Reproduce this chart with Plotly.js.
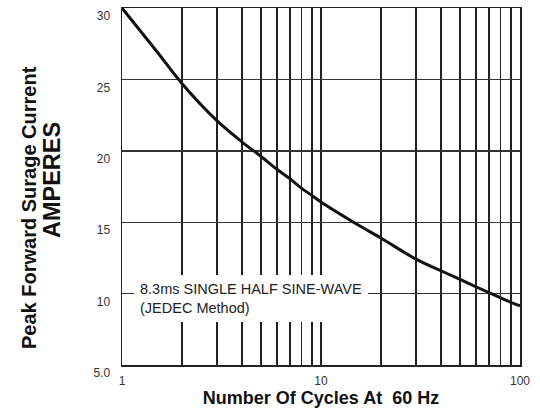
<!DOCTYPE html>
<html>
<head>
<meta charset="utf-8">
<script src="https://cdn.plot.ly/plotly-3.0.1.min.js"></script>
<style>html,body{margin:0;padding:0;background:#fff;}#chart{width:540px;height:412px;}</style>
</head>
<body>
<div id="chart"></div>
<script>
// Data
const cycles = [1, 1.5, 2, 3, 4, 5, 6, 7, 8, 9, 10, 15, 20, 30, 40, 50, 60, 70, 80, 90, 100];
const amperes = [30, 26.94, 24.72, 22.11, 20.63, 19.6, 18.71, 18.03, 17.37, 16.87, 16.41, 14.89, 13.89, 12.41, 11.6, 10.99, 10.48, 10.07, 9.7, 9.39, 9.14];

const xTickVals = [1, 2, 3, 4, 5, 6, 7, 8, 9, 10, 20, 30, 40, 50, 60, 70, 80, 90, 100];
const xTickText = ['1', '', '', '', '', '', '', '', '', '10', '', '', '', '', '', '', '', '', '100'];
const yTickVals = [5, 10, 15, 20, 25, 30];
const yTickText = ['5.0', '10', '15', '20', '25', '30'];

const xTitle = 'Number Of Cycles At\u00a0 60 Hz';
const yTitle1 = 'Peak Forward Surage Current';
const yTitle2 = 'AMPERES';
const noteText = '8.3ms SINGLE HALF SINE-WAVE<br>(JEDEC Method)';

const FONT = 'Liberation Sans, Arial, sans-serif';

const trace = {
  x: cycles, y: amperes, type: 'scatter', mode: 'lines',
  line: {color: '#111', width: 3, shape: 'spline', smoothing: 1},
  hoverinfo: 'skip'
};

const layout = {
  width: 540, height: 412,
  margin: {l: 122, r: 20, t: 8, b: 47},
  paper_bgcolor: '#fff', plot_bgcolor: '#fff',
  showlegend: false,
  font: {family: FONT, color: '#222', size: 12},
  xaxis: {
    type: 'log', range: [0, 2],
    tickmode: 'array', tickvals: xTickVals, ticktext: xTickText,
    ticks: '', showgrid: true, gridcolor: '#222', gridwidth: 1.4,
    showline: true, mirror: true, linecolor: '#222', linewidth: 1.5,
    zeroline: false, ticklabelstandoff: 4,
    tickfont: {family: FONT, size: 12, color: '#333'},
    title: {text: xTitle, font: {family: FONT, size: 18, color: '#111', weight: 'bold'}, standoff: 4}
  },
  yaxis: {
    range: [5, 30],
    tickmode: 'array', tickvals: yTickVals, ticktext: yTickText,
    ticks: '', showgrid: true, gridcolor: '#333', gridwidth: 1.4,
    showline: true, mirror: true, linecolor: '#222', linewidth: 1.5,
    zeroline: false, ticklabelstandoff: 8, ticklabelshift: 8,
    tickfont: {family: FONT, size: 12, color: '#333'}
  },
  annotations: [
    {
      text: noteText, xref: 'paper', yref: 'paper', x: 0.03, y: 0.185,
      xanchor: 'left', yanchor: 'middle', align: 'left', showarrow: false,
      bgcolor: '#fff', borderpad: 6, borderwidth: 0,
      font: {family: FONT, size: 14.5, color: '#222'}
    },
    {
      text: '<b>' + yTitle1 + '</b>', xref: 'paper', yref: 'paper',
      x: -0.2337, y: 0.4426, xanchor: 'center', yanchor: 'middle',
      textangle: -90, showarrow: false,
      font: {family: FONT, size: 20, color: '#111'}
    },
    {
      text: '<b>' + yTitle2 + '</b>', xref: 'paper', yref: 'paper',
      x: -0.176, y: 0.518, xanchor: 'center', yanchor: 'middle',
      textangle: -90, showarrow: false,
      font: {family: FONT, size: 23.5, color: '#111'}
    }
  ]
};

Plotly.newPlot('chart', [trace], layout, {staticPlot: true, displayModeBar: false});
</script>
</body>
</html>
